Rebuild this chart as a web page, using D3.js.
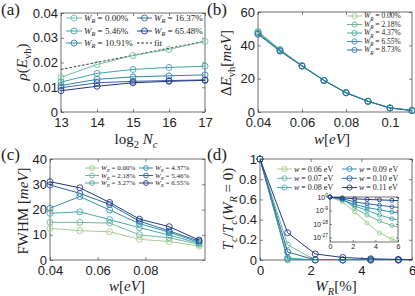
<!DOCTYPE html>
<html>
<head>
<meta charset="utf-8">
<script src="https://cdn.jsdelivr.net/npm/d3@7"></script>
<style>
  body { margin: 0; background: #fff; }
  svg text { font-family: "Liberation Serif", "Times New Roman", serif; fill: #222; }
  .tick text { font-family: "Liberation Sans", Arial, sans-serif; }
</style>
</head>
<body>
<svg width="415" height="296"></svg>
<script>
// ---- (a) rho(E_vh) vs log2 Nc
var logN = [13, 14, 15, 16, 17];
var rhoWR = ["0.00%", "5.46%", "10.91%", "16.37%", "65.48%"];
var rhoVals = [
  [0.0140, 0.0192, 0.0228, 0.0253, 0.0285],
  [0.0121, 0.0156, 0.0172, 0.0180, 0.0185],
  [0.0107, 0.0132, 0.0142, 0.0146, 0.0150],
  [0.0098, 0.0118, 0.0124, 0.0127, 0.0130],
  [0.0086, 0.0104, 0.0118, 0.0124, 0.0128]
];
var fitN = [13, 17];
var fitRho = [0.0172, 0.0286];

// ---- (b) Delta E_vh vs w
var wB = [0.04, 0.05, 0.06, 0.07, 0.08, 0.09, 0.10, 0.11];
var dEWR = ["0.00%", "2.18%", "4.37%", "6.55%", "8.73%"];
var dEVals = [
  [48.5, 37.6, 27.9, 19.1, 11.7, 6.5, 2.5, 1.0],
  [48.0, 37.3, 27.8, 19.0, 11.6, 6.5, 2.5, 1.0],
  [47.6, 37.1, 27.7, 19.0, 11.6, 6.4, 2.5, 0.9],
  [47.1, 36.8, 27.6, 18.9, 11.5, 6.4, 2.4, 0.9],
  [46.6, 36.5, 27.5, 18.9, 11.5, 6.4, 2.4, 0.9]
];

// ---- (c) FWHM vs w
var wC = [0.04, 0.0525, 0.065, 0.0775, 0.09, 0.1025];
var fwWR = ["0.00%", "2.18%", "3.27%", "4.37%", "5.46%", "6.55%"];
var fwVals = [
  [12.5, 11.6, 11.2, 8.2, 7.3, 5.5],
  [14.9, 14.9, 14.6, 10.0, 8.8, 6.2],
  [18.5, 19.1, 16.0, 12.8, 9.9, 6.6],
  [20.5, 25.1, 19.8, 14.4, 11.0, 7.0],
  [29.7, 26.4, 22.0, 15.4, 11.5, 7.5],
  [31.0, 28.6, 22.8, 16.2, 13.2, 7.9]
];

// ---- (d) Tc/Tc(WR=0) vs WR
var wrD = [0, 1.09, 2.18, 3.27, 4.37, 5.46, 6.55];
var wD = ["0.06", "0.07", "0.08", "0.09", "0.10", "0.11"];
var tcVals = [
  [1, 5e-4, 1e-10, 5e-18, 1e-24, 1e-28, 1e-31],
  [1, 0.15, 3e-8, 1e-12, 1e-16, 1e-19, 1e-21],
  [1, 0.02, 1e-6, 1e-9, 1e-12, 3e-15, 1e-16],
  [1, 0.01, 1e-5, 1e-7, 3e-9, 1e-10, 1e-11],
  [1, 0.08, 5e-4, 3e-5, 3e-6, 3e-7, 5e-8],
  [1, 0.27, 0.06, 0.025, 0.012, 0.006, 0.003]
];

var pal6 = ["#a3cd8f", "#6cba98", "#45aaa8", "#3590b3", "#2f66a5", "#253a85"];
var palA = ["#6fbf9c", "#3ea6ab", "#2d86b3", "#3864a6", "#233884"];
var palB = ["#a3cd8f", "#6cba98", "#45aaa8", "#3590b3", "#2f70a8"];

var svg = d3.select("svg");
var clipN = 0;

// text with italic / sub / sup pieces
function mathText(sel, parts, fs) {
  var cur = 0;
  parts.forEach(function(p) {
    var k = p[1];
    var sub = k[0] === "s", sup = k === "p";
    var off = sub ? fs * 0.28 : sup ? -fs * 0.42 : 0;
    var t = sel.append("tspan").text(p[0]);
    if (off !== cur) t.attr("dy", off - cur);
    cur = off;
    if (k === "i" || k === "si") t.attr("font-style", "italic");
    if (sub || sup) t.attr("font-size", fs * 0.7);
  });
  return sel;
}

function axes(x, y, xt, yt, xf, yf, fs, tl) {
  var l = x.range()[0], r = x.range()[1], t = y.range()[1], b = y.range()[0];
  var g = svg.append("g");
  g.append("rect").attr("x", l).attr("y", t).attr("width", r - l).attr("height", b - t)
    .attr("fill", "#fff");
  var ax = [
    g.append("g").attr("transform", "translate(0," + b + ")")
      .call(d3.axisBottom(x).tickValues(xt).tickFormat(xf).tickSize(-tl).tickPadding(6)),
    g.append("g").attr("transform", "translate(" + l + ",0)")
      .call(d3.axisLeft(y).tickValues(yt).tickFormat(yf).tickSize(-tl).tickPadding(3)),
    g.append("g").attr("transform", "translate(0," + t + ")")
      .call(d3.axisTop(x).tickValues(xt).tickFormat(function() { return ""; }).tickSize(-tl)),
    g.append("g").attr("transform", "translate(" + r + ",0)")
      .call(d3.axisRight(y).tickValues(yt).tickFormat(function() { return ""; }).tickSize(-tl))
  ];
  ax.forEach(function(a) {
    a.select(".domain").remove();
    a.selectAll(".tick line").attr("stroke", "#333").attr("stroke-width", 0.6);
    a.selectAll(".tick text").attr("font-size", fs).style("fill", "#222");
  });
  g.append("rect").attr("x", l).attr("y", t).attr("width", r - l).attr("height", b - t)
    .attr("fill", "none").attr("stroke", "#333").attr("stroke-width", 0.7);
  var id = "clip" + (clipN++);
  svg.append("clipPath").attr("id", id).append("rect")
    .attr("x", l).attr("y", t).attr("width", r - l).attr("height", b - t);
  g.clip = id;
  g.ax = ax;
  return g;
}

function series(g, x, y, xs, ys, color, rad) {
  var line = d3.line().x(function(d, i) { return x(xs[i]); }).y(function(d) { return y(d); });
  var xd = x.domain();
  var pts = ys.map(function(d, i) { return [xs[i], d]; })
    .filter(function(p) { return p[0] >= xd[0] && p[0] <= xd[1] && p[1] >= y.domain()[0]; });
  svg.append("path").datum(ys).attr("d", line).attr("fill", "none")
    .attr("stroke", color).attr("stroke-width", 1).attr("clip-path", "url(#" + g.clip + ")");
  svg.append("g").selectAll("circle").data(pts).enter().append("circle")
    .attr("cx", function(p) { return x(p[0]); })
    .attr("cy", function(p) { return y(p[1]); })
    .attr("r", rad).attr("fill", "none").attr("stroke", color).attr("stroke-width", 0.9);
}

function legendItem(x0, x1, yy, color, parts, fs, rad, dash) {
  svg.append("line").attr("x1", x0).attr("x2", x1).attr("y1", yy).attr("y2", yy)
    .attr("stroke", color).attr("stroke-width", 1).attr("stroke-dasharray", dash || null);
  if (rad) svg.append("circle").attr("cx", (x0 + x1) / 2).attr("cy", yy).attr("r", rad)
    .attr("fill", "none").attr("stroke", color).attr("stroke-width", 0.9);
  mathText(svg.append("text").attr("x", x1 + 2).attr("y", yy + fs * 0.33).attr("font-size", fs), parts, fs);
}

function xlab(cx, yy, parts, fs) {
  mathText(svg.append("text").attr("x", cx).attr("y", yy).attr("font-size", fs)
    .attr("text-anchor", "middle"), parts, fs);
}
function ylab(xx, cy, parts, fs) {
  mathText(svg.append("text").attr("transform", "translate(" + xx + "," + cy + ") rotate(-90)")
    .attr("font-size", fs).attr("text-anchor", "middle"), parts, fs);
}
function panelLabel(xx, yy, s) {
  svg.append("text").attr("x", xx).attr("y", yy).attr("font-size", 17).text(s);
}
function wrParts(s) { return [["W", "i"], ["R", "si"], [" = " + s, "r"]]; }

var dec = function(n) { return function(d) { return d === 0 ? "0" : d3.format("." + n + "f")(d); }; };
var trim = function(d) { return String(+d.toFixed(3)); };

// ===== (a)
var xA = d3.scaleLinear([13, 17], [61, 205]);
var yA = d3.scaleLinear([0, 0.04], [112, 13]);
var gA = axes(xA, yA, logN, [0, 0.01, 0.02, 0.03, 0.04], d3.format("d"), dec(2), 13, 3);
svg.append("path").datum(fitRho)
  .attr("d", d3.line().x(function(d, i) { return xA(fitN[i]); }).y(function(d) { return yA(d); }))
  .attr("fill", "none").attr("stroke", "#222").attr("stroke-width", 0.9).attr("stroke-dasharray", "2.5,1.8");
rhoVals.forEach(function(v, i) { series(gA, xA, yA, logN, v, palA[i], 3); });
var rowsA = [18, 31, 43];
[0, 1, 2].forEach(function(i) { legendItem(66, 82, rowsA[i], palA[i], wrParts(rhoWR[i]), 9, 3); });
[3, 4].forEach(function(i) { legendItem(137, 152, rowsA[i - 3], palA[i], wrParts(rhoWR[i]), 9, 3); });
legendItem(137, 152, rowsA[2], "#222", [["fit", "r"]], 9, 0, "2.5,1.8");
ylab(27, 62, [["ρ", "i"], ["(", "r"], ["E", "i"], ["vh", "sr"], [")", "r"]], 15);
xlab(136, 144, [["log", "r"], ["2", "sr"], [" N", "i"], ["c", "si"]], 15);
panelLabel(1, 15, "(a)");

// ===== (b)
var xB = d3.scaleLinear([0.04, 0.11], [258, 412]);
var yB = d3.scaleLinear([0, 60], [112, 12]);
var gB = axes(xB, yB, [0.04, 0.06, 0.08, 0.1], [0, 20, 40, 60], trim, d3.format("d"), 13, 3);
dEVals.forEach(function(v, i) { series(gB, xB, yB, wB, v, palB[i], 3); });
dEWR.forEach(function(s, i) { legendItem(347, 362, 16 + i * 8.5, palB[i], wrParts(s), 7.5, 2.6); });
ylab(231, 63, [["Δ", "r"], ["E", "i"], ["vh", "sr"], ["[", "r"], ["meV", "i"], ["]", "r"]], 15);
xlab(332, 144, [["w", "i"], ["[", "r"], ["eV", "i"], ["]", "r"]], 15);
panelLabel(207, 15, "(b)");

// ===== (c)
var xC = d3.scaleLinear([0.04, 0.105], [50, 205]);
var yC = d3.scaleLinear([0, 40], [260, 159]);
var gC = axes(xC, yC, [0.04, 0.06, 0.08], [0, 10, 20, 30, 40], trim, d3.format("d"), 13, 3);
fwVals.forEach(function(v, i) { series(gC, xC, yC, wC, v, pal6[i], 3); });
var rowsC = [168, 175.5, 183];
fwWR.forEach(function(s, i) {
  var c = i < 3 ? [85, 99] : [139, 153];
  legendItem(c[0], c[1], rowsC[i % 3], pal6[i], wrParts(s), 7, 2.4);
});
ylab(28, 211, [["FWHM [", "r"], ["meV", "i"], ["]", "r"]], 15);
xlab(127, 291, [["w", "i"], ["[", "r"], ["eV", "i"], ["]", "r"]], 15);
panelLabel(1, 160, "(c)");

// ===== (d)
var xD = d3.scaleLinear([0, 6], [260, 412]);
var yD = d3.scaleLinear([0, 1], [260, 159]);
var gD = axes(xD, yD, [0, 2, 4, 6], [0, 0.2, 0.4, 0.6, 0.8, 1], d3.format("d"), d3.format("~g"), 13, 3);
tcVals.forEach(function(v, i) { series(gD, xD, yD, wrD, v, pal6[i], 3); });
var rowsD = [169, 178.3, 187.6];
wD.forEach(function(s, i) {
  var c = i < 3 ? [277, 292] : [342, 357];
  legendItem(c[0], c[1], rowsD[i % 3], pal6[i], [["w", "i"], [" = " + s + " eV", "r"]], 8, 2.6);
});
ylab(233, 209, [["T", "i"], ["c", "si"], ["/", "r"], ["T", "i"], ["c", "si"], ["(", "r"],
  ["W", "i"], ["R", "si"], [" = 0)", "r"]], 15);
xlab(336, 291, [["W", "i"], ["R", "si"], ["[%]", "r"]], 15);
panelLabel(207, 160, "(d)");

// inset (log scale)
var xI = d3.scaleLinear([0, 6], [330, 398]);
var yI = d3.scaleLog([1e-30, 1], [242, 197]);
var gI = axes(xI, yI, [0, 2, 4, 6], [1, 1e-9, 1e-18, 1e-27], d3.format("d"), function() { return ""; }, 7, 2);
gI.ax[0].selectAll(".tick text").attr("dy", "0.6em").attr("y", 3);
gI.ax[1].selectAll(".tick text").each(function(d) {
  var t = d3.select(this).text(null).attr("x", -2);
  var e = Math.round(Math.log10(d));
  mathText(t, [["10", "r"], [String(e), "p"]], 7);
});
tcVals.forEach(function(v, i) { series(gI, xI, yI, wrD, v, pal6[i], 2); });
</script>
</body>
</html>
